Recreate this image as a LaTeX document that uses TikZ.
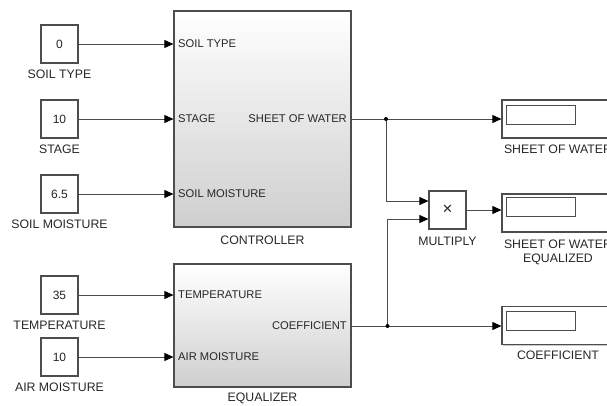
\documentclass[tikz,border=0pt]{standalone}
\usepackage{fontspec}
\setmainfont{Liberation Sans}
\usetikzlibrary{arrows.meta,shadows}
\definecolor{txt}{HTML}{262626}
\definecolor{edge}{HTML}{4d4d4d}
\tikzset{
  blk/.style={draw=edge, line width=1.2pt, fill=white, inner sep=0pt,
    drop shadow={shadow xshift=1.3pt, shadow yshift=-1.3pt, opacity=0.35, fill=black!60}},
  constbox/.style={blk, minimum width=37pt, minimum height=38pt, font=\fontsize{12}{13}\selectfont, text=txt},
  bigblock/.style={blk, top color=white, middle color=black!3, bottom color=black!19},
  dispbox/.style={blk, minimum width=112pt, minimum height=38pt},
  dispin/.style={draw=edge, line width=0.9pt, fill=white, inner sep=0pt, minimum width=69pt, minimum height=19pt},
  lbl/.style={font=\fontsize{12.3}{14}\selectfont, text=txt, inner sep=0pt},
  port/.style={font=\fontsize{11.2}{12}\selectfont, text=txt, inner sep=0pt},
  wire/.style={draw=black!70, line width=0.8pt},
  arr/.style={wire, -{Triangle[length=9pt,width=8pt,fill=black,color=black]}},
  junc/.style={circle, fill=black, inner sep=0pt, minimum size=4pt}
}
\begin{document}
\begin{tikzpicture}[x=1pt,y=-1pt]
\useasboundingbox (0,0) rectangle (607,405);
\clip (0,0) rectangle (607,405);
% constants
\node[constbox] (c1) at (59.5,44) {0};
\node[lbl] (l1) at (59.5,74) {SOIL TYPE};
\node[constbox] (c2) at (59.5,119) {10};
\node[lbl] (l2) at (59.5,149) {STAGE};
\node[constbox] (c3) at (59.5,194) {6.5};
\node[lbl] (l3) at (59.5,224) {SOIL MOISTURE};
\node[constbox] (c4) at (59.5,295) {35};
\node[lbl] (l4) at (59.5,325) {TEMPERATURE};
\node[constbox] (c5) at (59.5,357) {10};
\node[lbl] (l5) at (59.5,387) {AIR MOISTURE};
% big blocks
\node[bigblock, minimum width=177pt, minimum height=216pt] (ctrl) at (262.5,119) {};
\node[lbl] (lctrl) at (262.5,240) {CONTROLLER};
\node[bigblock, minimum width=177pt, minimum height=123pt] (eq) at (262.5,325.5) {};
\node[lbl] (leq) at (262.5,398) {EQUALIZER};
% ports
\node[port, anchor=west] (p1) at (178,44) {SOIL TYPE};
\node[port, anchor=west] (p2) at (178,119) {STAGE};
\node[port, anchor=west] (p3) at (178,194) {SOIL MOISTURE};
\node[port, anchor=east] (p4) at (347,119) {SHEET OF WATER};
\node[port, anchor=west] (p5) at (178,295) {TEMPERATURE};
\node[port, anchor=west] (p6) at (178,357) {AIR MOISTURE};
\node[port, anchor=east] (p7) at (347,326) {COEFFICIENT};
% multiply
\node[constbox, font=\fontsize{17}{18}\selectfont] (mul) at (447.5,210) {×};
\node[lbl] (lmul) at (447.5,241) {MULTIPLY};
% displays
\node[dispbox] (d1) at (558,119) {};
\node[dispin] (d1i) at (540.5,114.5) {};
\node[lbl] (ld1) at (558,149) {SHEET OF WATER};
\node[dispbox] (d2) at (558,213) {};
\node[dispin] (d2i) at (540.5,207) {};
\node[lbl] (ld2a) at (558,244) {SHEET OF WATER};
\node[lbl] (ld2b) at (558,259) {EQUALIZED};
\node[dispbox] (d3) at (558,325.5) {};
\node[dispin] (d3i) at (540.5,320.5) {};
\node[lbl] (ld3) at (558,355) {COEFFICIENT};
% wires
\draw[arr] (c1.east) -- (ctrl.west |- c1.east);
\draw[arr] (c2.east) -- (ctrl.west |- c2.east);
\draw[arr] (c3.east) -- (ctrl.west |- c3.east);
\draw[arr] (c4.east) -- (eq.west |- c4.east);
\draw[arr] (c5.east) -- (eq.west |- c5.east);
\coordinate (b1) at (386,119);
\coordinate (b2) at (387.5,326);
\coordinate (m1) at (mul.west |- 0,201);
\coordinate (m2) at (mul.west |- 0,219);
\draw[wire] (ctrl.east |- b1) -- (b1);
\draw[arr] (b1) -- (d1.west |- b1);
\draw[arr] (b1) |- (m1);
\draw[wire] (eq.east |- b2) -- (b2);
\draw[arr] (b2) -- (d3.west |- b2);
\draw[arr] (b2) |- (m2);
\draw[arr] (mul.east) -- (d2.west |- mul.east);
\node[junc] (j1) at (b1) {};
\node[junc] (j2) at (b2) {};
\end{tikzpicture}
\end{document}
